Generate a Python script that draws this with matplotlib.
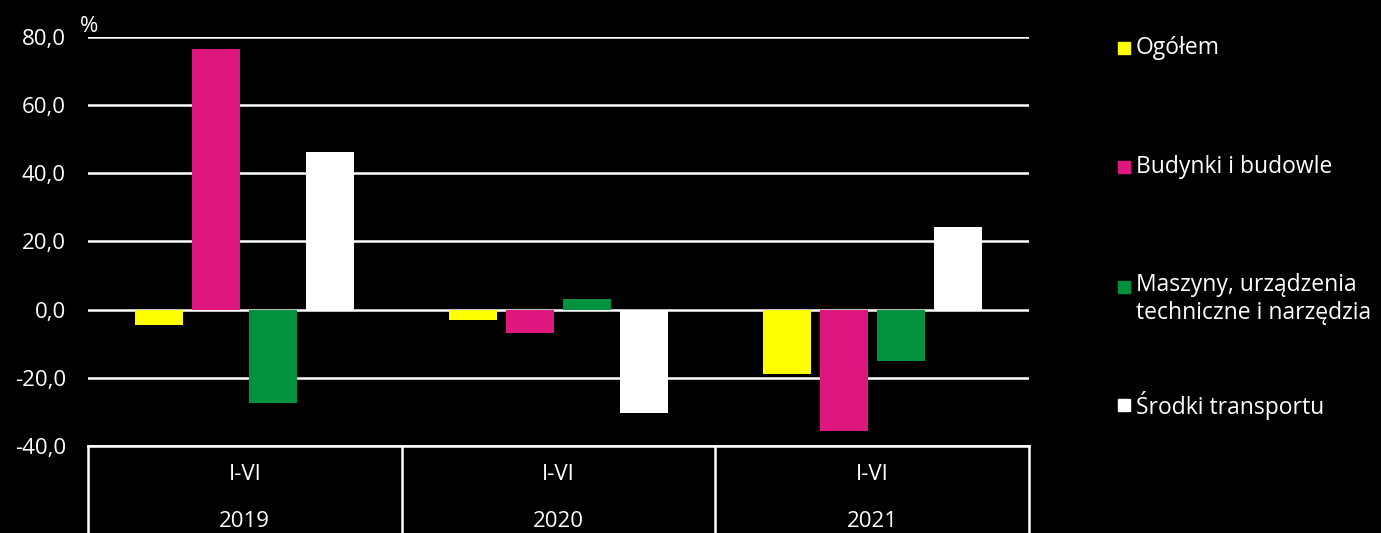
import numpy as np
import matplotlib
matplotlib.use("Agg")
import matplotlib.pyplot as plt
from matplotlib.patches import Rectangle
from matplotlib.transforms import blended_transform_factory

# dane
okresy = ["I-VI", "I-VI", "I-VI"]
lata = ["2019", "2020", "2021"]
serie = ["Ogółem", "Budynki i budowle",
         "Maszyny, urządzenia\ntechniczne i narzędzia", "Środki transportu"]
ogolem = [-4.4, -3.0, -19.0]
budynki = [76.5, -6.8, -35.6]
maszyny = [-27.3, 3.2, -15.1]
transport = [46.3, -30.4, 24.3]
wartosci = [ogolem, budynki, maszyny, transport]
kolory = ["#FFFF00", "#DE1680", "#00923F", "#FFFFFF"]
yticks = [-40, -20, 0, 20, 40, 60, 80]

plt.rcParams['font.family'] = ['Open Sans', 'DejaVu Sans']

fig = plt.figure(figsize=(13.81, 5.33), dpi=100, facecolor="black")
ax = fig.add_axes([88/1381, 1-446/533, (1029-88)/1381, (446-37)/533])
ax.set_facecolor("black")

x = np.arange(len(lata))
szer = 0.153
krok = 0.182
for i, (vals, kol) in enumerate(zip(wartosci, kolory)):
    ax.bar(x + (i - 1.5)*krok, vals, width=szer, color=kol, zorder=3)

ax.set_xlim(-0.5, 2.5)
ax.set_ylim(-40, 80)
ax.set_yticks(yticks)
ax.set_yticklabels([f"{v:.1f}".replace(".", ",") for v in yticks],
                   color="white", fontsize=16)
ax.tick_params(axis="y", length=0, pad=16)
ax.set_xticks([])
for v in yticks:
    ax.axhline(v, color="white", lw=1.8, zorder=2)
for s in ["left", "right", "top"]:
    ax.spines[s].set_visible(False)
ax.spines["bottom"].set_color("white")
ax.spines["bottom"].set_linewidth(1.8)

# tabela pod osią
tr = blended_transform_factory(ax.transData, ax.transAxes)
for xv in [-0.5, 0.5, 1.5, 2.5]:
    ax.plot([xv, xv], [0, -0.25], color="white", lw=1.8, transform=tr, clip_on=False)
for i in range(len(lata)):
    ax.text(x[i], -0.07, okresy[i], transform=tr, ha="center", va="center",
            color="white", fontsize=16)
    ax.text(x[i], -0.185, lata[i], transform=tr, ha="center", va="center",
            color="white", fontsize=16)

fig.text(80/1381, 1-27/533, "%", color="white", fontsize=16, ha="left", va="center")

# legenda
leg_y = [48, 167, 287, 405]
for nazwa, kol, yy in zip(serie, kolory, leg_y):
    fig.patches.append(Rectangle((1118/1381, 1-(yy+6)/533), 12/1381, 12/533,
                                 transform=fig.transFigure, color=kol, figure=fig))
    fig.text(1136/1381, 1-yy/533, nazwa, color="white", fontsize=16.5,
             ha="left", va="top" if "\n" in nazwa else "center",
             linespacing=1.2)
# korekta pozycji dwuliniowego wpisu
fig.texts[-2].set_y(1-(287-14)/533)

fig.savefig("out.png", dpi=100, facecolor="black")
